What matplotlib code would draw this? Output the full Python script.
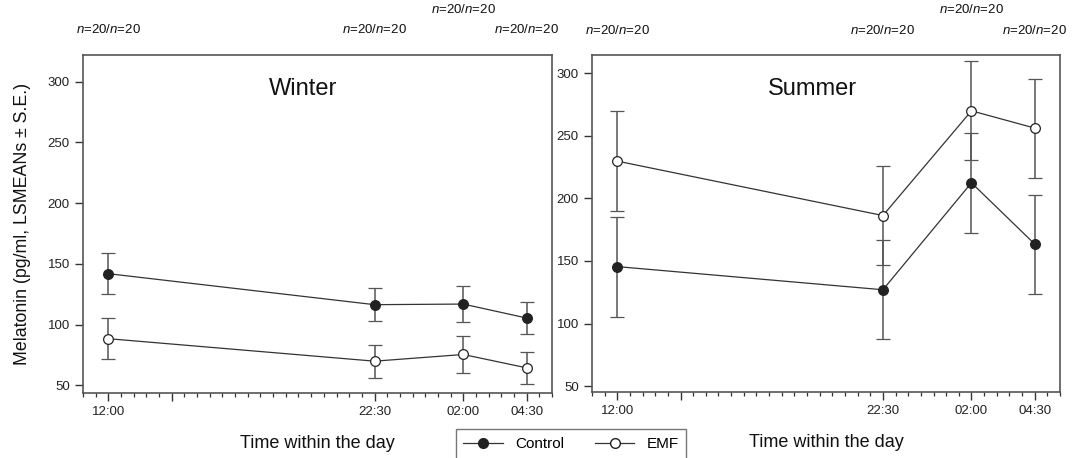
import numpy as np
import matplotlib.pyplot as plt
from matplotlib.lines import Line2D
from matplotlib.ticker import MultipleLocator, FixedLocator

plt.rcParams['font.family'] = ['Liberation Sans', 'DejaVu Sans']
plt.rcParams['mathtext.fontset'] = 'custom'
plt.rcParams['mathtext.rm'] = 'Liberation Sans'
plt.rcParams['mathtext.it'] = 'Liberation Sans:italic'

# sampling times (hours, 02:00 and 04:30 are next day)
times = [12, 22.5, 26, 28.5]
time_labels = ['12:00', '22:30', '02:00', '04:30']
n_labels = ['$n$=20/$n$=20'] * 4

# winter
winter_control = [142, 116.5, 117, 105.5]
winter_control_se = [17, 13.5, 15, 13]
winter_emf = [88.5, 70, 75.5, 64.5]
winter_emf_se = [17, 13.5, 15, 13]

# summer
summer_control = [145.5, 127, 212.5, 163.5]
summer_control_se = [40, 39.5, 40, 39.5]
summer_emf = [229.8, 186.3, 270, 256.2]
summer_emf_se = [39.7, 39.6, 39.5, 39.6]

W, H = 1077, 458
fig = plt.figure(figsize=(W / 100, H / 100), dpi=100)
ax1 = fig.add_axes([83 / W, 1 - 393 / H, (552 - 83) / W, (393 - 55) / H])
ax2 = fig.add_axes([592 / W, 1 - 392 / H, (1060 - 592) / W, (392 - 55) / H])

line_col = '#333333'
err_col = '#555555'
ms = 7

panels = [
    (ax1, 'Winter', winter_control, winter_control_se, winter_emf, winter_emf_se, (43.8, 322)),
    (ax2, 'Summer', summer_control, summer_control_se, summer_emf, summer_emf_se, (45.3, 314.6)),
]

for ax, name, ctl, ctl_se, emf, emf_se, ylim in panels:
    ax.errorbar(times, emf, yerr=emf_se, color=line_col, ecolor=err_col, elinewidth=1.1,
                capsize=5, capthick=1.1, lw=0.9, marker='o', ms=ms, mfc='white',
                mec='#222222', mew=0.9, zorder=3)
    ax.errorbar(times, ctl, yerr=ctl_se, color=line_col, ecolor=err_col, elinewidth=1.1,
                capsize=5, capthick=1.1, lw=0.9, marker='o', ms=ms, mfc='#222222',
                mec='#222222', mew=0.9, zorder=3)
    ax.set_xlim(11, 29.5)
    ax.set_ylim(*ylim)
    ax.set_yticks([50, 100, 150, 200, 250, 300])
    ax.xaxis.set_major_locator(FixedLocator([12, 14.5, 22.5, 26, 28.5]))
    ax.set_xticklabels(['12:00', '', '22:30', '02:00', '04:30'])
    ax.xaxis.set_minor_locator(MultipleLocator(0.5))
    ax.tick_params(axis='both', which='major', labelsize=9.5, length=6, width=1,
                   color='#333333', labelcolor='#222222')
    ax.tick_params(axis='x', which='minor', length=3, width=0.9, color='#333333')
    for s in ax.spines.values():
        s.set_color('#555555')
        s.set_linewidth(1.2)
    ax.text(0.47, 0.90, name, transform=ax.transAxes, ha='center', va='center',
            fontsize=17, color='#111111')
    ax.set_xlabel('Time within the day', fontsize=13, labelpad=12, color='#111111')
    # sample size labels above the panel
    for t, lab in zip(times, n_labels):
        yy = 1.074 if t != 26 else 1.136
        ax.text(t, yy, lab, transform=ax.get_xaxis_transform(), ha='center', va='center',
                fontsize=9.5, color='#111111')

ax1.set_ylabel('Melatonin (pg/ml, LSMEANs ± S.E.)', fontsize=12.8, labelpad=12, color='#111111')

handles = [
    Line2D([], [], color=line_col, lw=0.9, marker='o', ms=ms, mfc='#222222', mec='#222222'),
    Line2D([], [], color=line_col, lw=0.9, marker='o', ms=ms, mfc='white', mec='#222222'),
]
leg = fig.legend(handles, ['Control', 'EMF'], ncol=2, loc='center',
                 bbox_to_anchor=(571 / W, 1 - 444 / H), fontsize=11, frameon=True,
                 fancybox=False, edgecolor='#555555', handlelength=2.6,
                 columnspacing=2.0, borderpad=0.5)
leg.get_frame().set_linewidth(1.0)

fig.savefig('out.png', dpi=100)
